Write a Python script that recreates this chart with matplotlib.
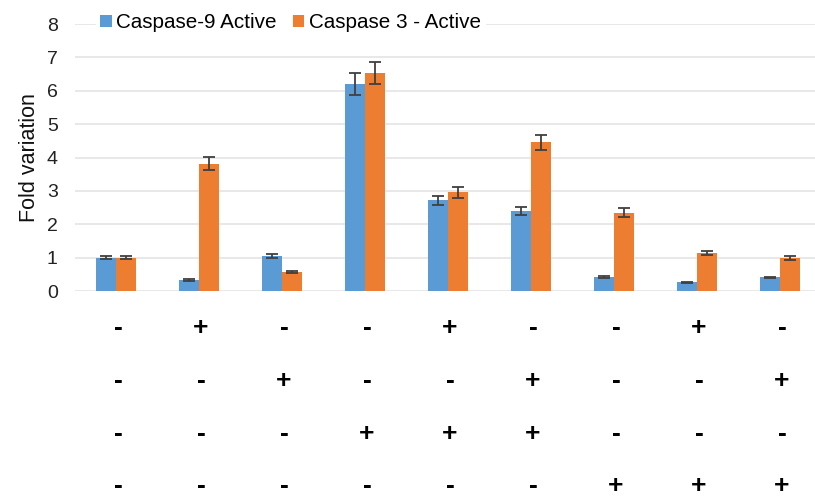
import matplotlib
matplotlib.use("Agg")
import matplotlib.pyplot as plt
import numpy as np

plt.rcParams['font.family'] = ['Liberation Sans', 'DejaVu Sans']

series_names = ["Caspase-9 Active", "Caspase 3 - Active"]
casp9 = [1.00, 0.33, 1.05, 6.20, 2.72, 2.40, 0.42, 0.26, 0.41]
casp9_err = [0.05, 0.03, 0.05, 0.32, 0.14, 0.13, 0.03, 0.02, 0.02]
casp3 = [1.00, 3.82, 0.58, 6.52, 2.96, 4.45, 2.35, 1.13, 0.98]
casp3_err = [0.05, 0.19, 0.03, 0.33, 0.16, 0.23, 0.13, 0.06, 0.06]

# treatment matrix shown under the bars (one row per treatment)
treatments = [
    ["-", "+", "-", "-", "+", "-", "-", "+", "-"],
    ["-", "-", "+", "-", "-", "+", "-", "-", "+"],
    ["-", "-", "-", "+", "+", "+", "-", "-", "-"],
    ["-", "-", "-", "-", "-", "-", "+", "+", "+"],
]

blue = "#5B9BD5"
orange = "#ED7D31"
grid_color = "#E6E6E6"
err_color = "#404040"

W, H = 815, 497
fig = plt.figure(figsize=(W / 100, H / 100), dpi=100)
ax = fig.add_axes([74.5 / W, (H - 291) / H, (W - 74.5) / W, (291 - 24) / H])

x = np.arange(len(casp9))
bw = 0.24
ekw = dict(ecolor=err_color, elinewidth=1.3, capsize=4, capthick=1.3)
ax.bar(x - bw / 2, casp9, bw, color=blue, yerr=casp9_err, error_kw=ekw,
       label=series_names[0], zorder=3)
ax.bar(x + bw / 2, casp3, bw, color=orange, yerr=casp3_err, error_kw=ekw,
       label=series_names[1], zorder=3)

ax.set_ylim(0, 8)
ax.set_xlim(-0.5, -0.5 + (W - 74.5) / 83.0)
ax.set_yticks(range(0, 9))
ax.yaxis.grid(True, color=grid_color, linewidth=1.3, zorder=0)
ax.set_axisbelow(True)
for s in ax.spines.values():
    s.set_visible(False)
ax.tick_params(axis='y', length=0, pad=12, labelsize=14, labelcolor="#222222")
ax.set_xticks([])
ax.set_ylabel("Fold variation", fontsize=15.5, color="#111111", labelpad=5)

# +/- rows under each group
row_y = [328, 381, 434, 486]
for row, ypx in zip(treatments, row_y):
    yf = (H - ypx) / H
    for i, sym in enumerate(row):
        xf = (74.5 + (i + 0.5) * 83.0 + 2) / W
        fig.text(xf, yf, sym, ha='center', va='center', fontsize=19,
                 fontweight='bold', color='black')

leg = ax.legend(loc='center left', bbox_to_anchor=(86 / W, (H - 23) / H),
                bbox_transform=fig.transFigure, ncol=2, frameon=True,
                fontsize=14.9, handlelength=0.55, handleheight=0.55,
                handletextpad=0.2, columnspacing=0.8, borderpad=0.2)
leg.get_frame().set_facecolor('white')
leg.get_frame().set_edgecolor('white')
leg.get_frame().set_alpha(1)

fig.savefig("out.png", dpi=100, facecolor='white')
